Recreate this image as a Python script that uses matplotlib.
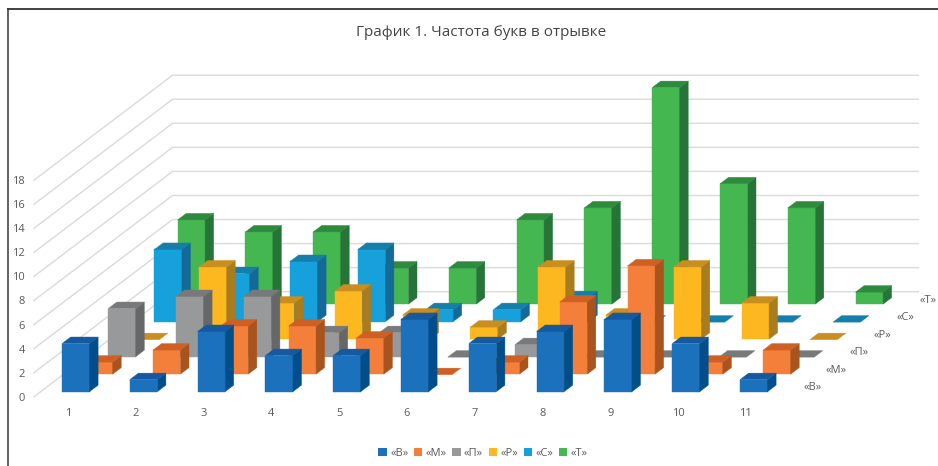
import matplotlib
matplotlib.use("Agg")
import matplotlib.pyplot as plt
from matplotlib.collections import PolyCollection
from matplotlib.lines import Line2D
from matplotlib.patches import Patch

plt.rcParams['font.family'] = ['Open Sans', 'DejaVu Sans']

TITLE = "График 1. Частота букв в отрывке"
categories = ["1", "2", "3", "4", "5", "6", "7", "8", "9", "10", "11"]
series_names = ["«В»", "«М»", "«П»", "«Р»", "«С»", "«Т»"]
val_v = [4, 1, 5, 3, 3, 6, 4, 5, 6, 4, 1]
val_m = [1, 2, 4, 4, 3, 0, 1, 6, 9, 1, 2]
val_p = [4, 5, 5, 2, 2, 0, 1, 0, 0, 0, 0]
val_r = [0, 6, 3, 4, 2, 1, 6, 2, 6, 3, 0]
val_s = [6, 4, 5, 6, 1, 1, 2, 0, 0, 0, 0]
val_t = [7, 6, 6, 3, 3, 7, 8, 18, 10, 8, 1]
series = [val_v, val_m, val_p, val_r, val_s, val_t]
y_ticks = list(range(0, 20, 2))

# (front, top, side) shades for each series
shades = [("#1C71BC", "#1559A0", "#024E8A"),
          ("#F47F3A", "#CF6024", "#A9541F"),
          ("#98999B", "#77797A", "#656768"),
          ("#FDB71F", "#C98E1E", "#A97C1F"),
          ("#16A0DC", "#147FAB", "#146A96"),
          ("#45B751", "#2E8A3D", "#267437")]

W, H = 938, 466
X0, Y0 = 34.0, 396.7      # floor front-left corner, px
CAT_PX, VAL_PX = 67.8, 12.03
ROW_DX_PX, ROW_DY_PX = 23.1, 17.5
DX, DY = ROW_DX_PX / CAT_PX, ROW_DY_PX / VAL_PX
BAR_W, BAR_D = 0.405, 0.37
BAR_C0, BAR_R0 = 0.3155, 0.29
n_cat, n_row = len(categories), len(series)

fig = plt.figure(figsize=(W / 100, H / 100), dpi=100, facecolor="white")
ax_w, ax_h = 890.0, 325.0
ax = fig.add_axes([X0 / W, (H - Y0) / H, ax_w / W, ax_h / H])
ax.set_xlim(0, ax_w / CAT_PX)
ax.set_ylim(0, ax_h / VAL_PX)
ax.patch.set_visible(False)
for s in ax.spines.values():
    s.set_visible(False)


def pt(c, r, v):
    """Oblique projection: category, row depth, value -> axes data coords."""
    return (c + r * DX, v + r * DY)


# gridlines: side wall then back wall
for v in y_ticks:
    xs, ys = zip(pt(0, 0, v), pt(0, n_row, v), pt(n_cat, n_row, v))
    ax.plot(xs, ys, color="#DADADA", lw=1.0, zorder=1, clip_on=False,
            solid_joinstyle="miter")

# bars, back row first, left to right
z = 2
for r in range(n_row - 1, -1, -1):
    front_c, top_c, side_c = shades[r]
    vals = series[r]
    for i, v in enumerate(vals):
        c0 = i + BAR_C0
        c1 = c0 + BAR_W
        r0 = r + BAR_R0
        r1 = r0 + BAR_D
        polys, cols = [], []
        if v > 0:
            polys.append([pt(c0, r0, 0), pt(c1, r0, 0), pt(c1, r0, v), pt(c0, r0, v)])
            cols.append(front_c)
            polys.append([pt(c1, r0, 0), pt(c1, r1, 0), pt(c1, r1, v), pt(c1, r0, v)])
            cols.append(side_c)
        polys.append([pt(c0, r0, v), pt(c1, r0, v), pt(c1, r1, v), pt(c0, r1, v)])
        cols.append(top_c)
        ax.add_collection(PolyCollection(polys, facecolors=cols, edgecolors=cols,
                                         linewidths=0.3, zorder=z, clip_on=False))
        z += 1

# axes ticks
ax.set_xticks([i + 0.5 for i in range(n_cat)], categories)
ax.set_yticks(y_ticks, [str(v) for v in y_ticks])
ax.tick_params(axis="x", length=0, pad=8.2, labelsize=8, labelcolor="#595959")
ax.tick_params(axis="y", length=0, pad=6.5, labelsize=8, labelcolor="#595959")

# series labels along the depth axis
for r, name in enumerate(series_names):
    x, y = pt(n_cat + 0.317, r + 0.5, 0)
    ax.text(x, y, name, ha="center", va="center", fontsize=8,
            color="#595959", clip_on=False)

fig.text(481 / W, 1 - 32.5 / H, TITLE, ha="center", va="center",
         fontsize=11, color="#444444")

handles = [Patch(facecolor=sh[0], edgecolor="none") for sh in shades]
fig.legend(handles, series_names, loc="center", bbox_to_anchor=(483 / W, 1 - 453.5 / H),
           ncol=n_row, frameon=False, fontsize=8, labelcolor="#595959",
           handlelength=0.75, handleheight=0.75, handletextpad=0.3, columnspacing=0.5)

# page frame
fig.add_artist(Line2D((8 / W, 8 / W), (0, 1 - 9 / H), color="#555555", lw=1.3,
                      transform=fig.transFigure))
fig.add_artist(Line2D((8 / W, 1), (1 - 9 / H, 1 - 9 / H), color="#333333", lw=1.3,
                      transform=fig.transFigure))

fig.savefig("out.png", dpi=100)
